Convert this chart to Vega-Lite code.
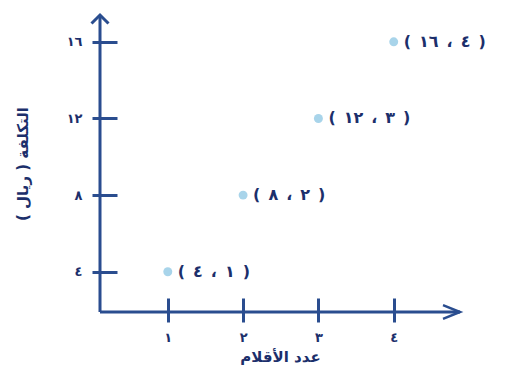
{
  "$schema": "https://vega.github.io/schema/vega-lite/v6.json",
  "width": 360,
  "height": 297,
  "autosize": "none",
  "padding": {"left": 100, "top": 15, "right": 50, "bottom": 53},
  "background": "white",
  "config": {"view": {"stroke": null}, "font": "DejaVu Sans"},
  "datasets": {
    "pts": [
      {"x": 1, "y": 4, "label": "(\u2002١\u2002،\u2002٤\u2002)"},
      {"x": 2, "y": 8, "label": "(\u2002٢\u2002،\u2002٨\u2002)"},
      {"x": 3, "y": 12, "label": "(\u2002٣\u2002،\u2002١٢\u2002)"},
      {"x": 4, "y": 16, "label": "(\u2002٤\u2002،\u2002١٦\u2002)"}
    ],
    "frame": [
      {"x0": 0.1, "x1": 4.88, "y0": 1.9, "y1": 17.4}
    ]
  },
  "layer": [
    {
      "data": {"name": "pts"},
      "mark": {"type": "point", "filled": true, "size": 80, "color": "#a8d4ea", "opacity": 1},
      "encoding": {
        "x": {
          "field": "x", "type": "quantitative",
          "scale": {"domain": [0.1, 4.88], "nice": false, "zero": false},
          "axis": {
            "values": [1, 2, 3, 4], "offset": -14, "tickSize": 24, "tickWidth": 3,
            "tickColor": "#2a4d8f", "domain": false, "grid": false,
            "labelExpr": "datum.value == 1 ? '١' : datum.value == 2 ? '٢' : datum.value == 3 ? '٣' : '٤'",
            "labelFont": "DejaVu Sans", "labelFontSize": 13, "labelFontWeight": "bold",
            "labelColor": "#1c2f6b", "labelPadding": 9, "labelFlush": false,
            "title": "عدد الأقلام", "titleFont": "DejaVu Sans", "titleFontSize": 15,
            "titleFontWeight": "bold", "titleColor": "#1c2f6b", "titlePadding": 5
          }
        },
        "y": {
          "field": "y", "type": "quantitative",
          "scale": {"domain": [1.9, 17.4], "nice": false, "zero": false},
          "axis": {
            "values": [4, 8, 12, 16], "offset": -17, "tickSize": 25, "tickWidth": 3,
            "tickColor": "#2a4d8f", "domain": false, "grid": false,
            "labelExpr": "datum.value == 4 ? '٤' : datum.value == 8 ? '٨' : datum.value == 12 ? '١٢' : '١٦'",
            "labelFont": "DejaVu Sans", "labelFontSize": 13, "labelFontWeight": "bold",
            "labelColor": "#1c2f6b", "labelPadding": 10,
            "title": "‏التكلفة ( ريال )‏", "titleFont": "DejaVu Sans", "titleFontSize": 15,
            "titleFontWeight": "bold", "titleColor": "#1c2f6b", "titlePadding": 36
          }
        }
      }
    },
    {
      "data": {"name": "pts"},
      "mark": {"type": "text", "align": "left", "baseline": "middle", "dx": 10, "fontSize": 16, "fontWeight": "bold", "font": "DejaVu Sans", "color": "#1c2f6b"},
      "encoding": {
        "x": {"field": "x", "type": "quantitative"},
        "y": {"field": "y", "type": "quantitative"},
        "text": {"field": "label"}
      }
    },
    {
      "data": {"name": "frame"},
      "mark": {"type": "rule", "color": "#2a4d8f", "strokeWidth": 3},
      "encoding": {
        "x": {"field": "x0", "type": "quantitative"},
        "x2": {"field": "x1"},
        "y": {"field": "y0", "type": "quantitative"}
      }
    },
    {
      "data": {"name": "frame"},
      "mark": {"type": "rule", "color": "#2a4d8f", "strokeWidth": 3},
      "encoding": {
        "x": {"field": "x0", "type": "quantitative"},
        "y": {"field": "y0", "type": "quantitative"},
        "y2": {"field": "y1"}
      }
    },
    {
      "data": {"name": "frame"},
      "mark": {"type": "point", "shape": "M -1 1 L 0 0 L 1 1", "size": 289, "filled": false, "stroke": "#2a4d8f", "strokeWidth": 3, "opacity": 1},
      "encoding": {
        "x": {"field": "x0", "type": "quantitative"},
        "y": {"field": "y1", "type": "quantitative"}
      }
    },
    {
      "data": {"name": "frame"},
      "mark": {"type": "point", "shape": "M -2 -0.8 L 0 0 L -2 0.8", "size": 289, "filled": false, "stroke": "#2a4d8f", "strokeWidth": 2.5, "opacity": 1},
      "encoding": {
        "x": {"field": "x1", "type": "quantitative"},
        "y": {"field": "y0", "type": "quantitative"}
      }
    }
  ]
}
